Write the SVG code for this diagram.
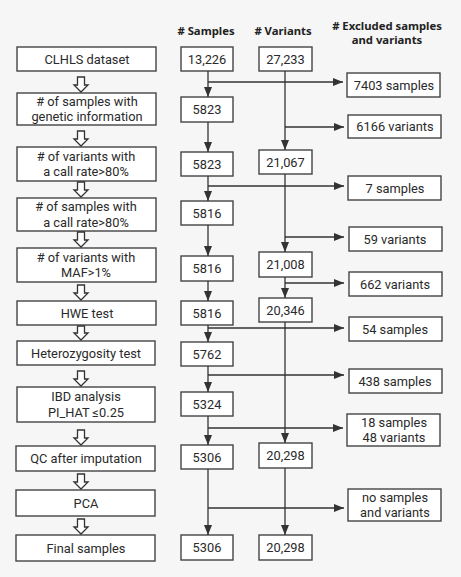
<svg xmlns="http://www.w3.org/2000/svg" width="461" height="577" viewBox="0 0 461 577">
<defs>
<marker id="ah" markerWidth="10" markerHeight="8" refX="10" refY="4" orient="auto" markerUnits="userSpaceOnUse">
<path d="M0,0 L10,4 L0,8 Z" fill="#333"/>
</marker>
<style>
.b{fill:#fff;stroke:#444;stroke-width:1.4}
.t{font-family:Roboto,"Noto Sans","DejaVu Sans",sans-serif;font-size:12.8px;fill:#2a2a2a;text-anchor:middle;dominant-baseline:central}
.n{font-family:Roboto,"Noto Sans","DejaVu Sans",sans-serif;font-size:12.8px;fill:#2a2a2a;text-anchor:middle;dominant-baseline:central}
.h{font-family:"Noto Sans","Open Sans","DejaVu Sans",sans-serif;font-size:11.3px;font-weight:bold;fill:#222;text-anchor:middle}
.c{fill:none;stroke:#333;stroke-width:1.3}
.ha{fill:#fff;stroke:#333;stroke-width:1.3;stroke-linejoin:miter}
</style>
</defs>
<rect width="461" height="577" fill="#f6f6f6"/>
<g id="headers">
<text class="h" x="206" y="35">&#35; Samples</text>
<text class="h" x="283" y="35">&#35; Variants</text>
<text class="h" x="387" y="30">&#35; Excluded samples</text>
<text class="h" x="387" y="44">and variants</text>
</g>
<g id="steps">
<g id="s1"><rect class="b" x="17" y="47" width="139" height="24"/><text class="t" x="87" y="59">CLHLS dataset</text></g>
<g id="s2"><rect class="b" x="17" y="93" width="139" height="32"/><text class="t" x="87" y="101.4">&#35; of samples with</text><text class="t" x="87" y="116.6">genetic information</text></g>
<g id="s3"><rect class="b" x="17" y="147" width="139" height="34"/><text class="t" x="86" y="156.4">&#35; of variants with</text><text class="t" x="86" y="171.6">a call rate&gt;80%</text></g>
<g id="s4"><rect class="b" x="17" y="198" width="139" height="33"/><text class="t" x="86" y="206.9">&#35; of samples with</text><text class="t" x="86" y="222.1">a call rate&gt;80%</text></g>
<g id="s5"><rect class="b" x="17" y="248" width="139" height="34"/><text class="t" x="86" y="257.4">&#35; of variants with</text><text class="t" x="86" y="272.6">MAF&gt;1%</text></g>
<g id="s6"><rect class="b" x="17" y="301" width="139" height="24"/><text class="t" x="87" y="313">HWE test</text></g>
<g id="s7"><rect class="b" x="17" y="341" width="138" height="24"/><text class="t" x="86" y="353">Heterozygosity test</text></g>
<g id="s8"><rect class="b" x="17" y="387" width="138" height="35"/><text class="t" x="86" y="396.9">IBD analysis</text><text class="t" x="86" y="412.1">PI_HAT ≤0.25</text></g>
<g id="s9"><rect class="b" x="16" y="446" width="139" height="25"/><text class="t" x="86" y="458.5">QC after imputation</text></g>
<g id="s10"><rect class="b" x="16" y="490" width="139" height="26"/><text class="t" x="86" y="503">PCA</text></g>
<g id="s11"><rect class="b" x="16" y="535" width="139" height="26"/><text class="t" x="86" y="548">Final samples</text></g>
</g>
<g id="samples">
<g id="n1"><rect class="b" x="181" y="47" width="52" height="24"/><text class="n" x="207" y="59">13,226</text></g>
<g id="n2"><rect class="b" x="181" y="97" width="52" height="25"/><text class="n" x="207" y="109.5">5823</text></g>
<g id="n3"><rect class="b" x="181" y="152" width="52" height="24"/><text class="n" x="207" y="164">5823</text></g>
<g id="n4"><rect class="b" x="181" y="201" width="52" height="24"/><text class="n" x="207" y="213">5816</text></g>
<g id="n5"><rect class="b" x="181" y="256" width="52" height="25"/><text class="n" x="207" y="268.5">5816</text></g>
<g id="n6"><rect class="b" x="181" y="301" width="52" height="24"/><text class="n" x="207" y="313">5816</text></g>
<g id="n7"><rect class="b" x="181" y="342" width="52" height="24"/><text class="n" x="207" y="354">5762</text></g>
<g id="n8"><rect class="b" x="181" y="392" width="52" height="24"/><text class="n" x="207" y="404">5324</text></g>
<g id="n9"><rect class="b" x="181" y="445" width="52" height="24"/><text class="n" x="207" y="457">5306</text></g>
<g id="n10"><rect class="b" x="181" y="535" width="52" height="25"/><text class="n" x="207" y="547.5">5306</text></g>
</g>
<g id="variants">
<g id="v1"><rect class="b" x="259" y="47" width="53" height="24"/><text class="n" x="285.5" y="59">27,233</text></g>
<g id="v2"><rect class="b" x="259" y="150" width="53" height="24"/><text class="n" x="285.5" y="162">21,067</text></g>
<g id="v3"><rect class="b" x="259" y="252" width="53" height="25"/><text class="n" x="285.5" y="264.5">21,008</text></g>
<g id="v4"><rect class="b" x="259" y="298" width="53" height="24"/><text class="n" x="285.5" y="310">20,346</text></g>
<g id="v5"><rect class="b" x="259" y="443" width="53" height="25"/><text class="n" x="285.5" y="455.5">20,298</text></g>
<g id="v6"><rect class="b" x="259" y="535" width="53" height="25"/><text class="n" x="285.5" y="547.5">20,298</text></g>
</g>
<g id="excluded">
<g id="e1"><rect class="b" x="347" y="73" width="93" height="24"/><text class="t" x="394" y="85">7403 samples</text></g>
<g id="e2"><rect class="b" x="348" y="115" width="93" height="23"/><text class="t" x="395" y="126.5">6166 variants</text></g>
<g id="e3"><rect class="b" x="348" y="176" width="93" height="24"/><text class="t" x="395" y="188">7 samples</text></g>
<g id="e4"><rect class="b" x="349" y="227" width="93" height="24"/><text class="t" x="395" y="239">59 variants</text></g>
<g id="e5"><rect class="b" x="349" y="272" width="93" height="24"/><text class="t" x="395" y="284">662 variants</text></g>
<g id="e6"><rect class="b" x="349" y="317" width="93" height="24"/><text class="t" x="395" y="329">54 samples</text></g>
<g id="e7"><rect class="b" x="349" y="369" width="93" height="24"/><text class="t" x="395" y="381">438 samples</text></g>
<g id="e8"><rect class="b" x="347" y="414" width="93" height="32"/><text class="t" x="394" y="422.4">18 samples</text><text class="t" x="394" y="437.6">48 variants</text></g>
<g id="e9"><rect class="b" x="348" y="489" width="93" height="32"/><text class="t" x="395" y="497.4">no samples</text><text class="t" x="395" y="512.6">and variants</text></g>
</g>
<g id="connectors">
<path class="ha" d="M77.5,77 H84.5 V85 H88 L81,92 L74,85 H77.5 Z"/>
<path class="ha" d="M77.5,131 H84.5 V139 H88 L81,146 L74,139 H77.5 Z"/>
<path class="ha" d="M77.5,182 H84.5 V190 H88 L81,197 L74,190 H77.5 Z"/>
<path class="ha" d="M77.5,232 H84.5 V240 H88 L81,247 L74,240 H77.5 Z"/>
<path class="ha" d="M77.5,285 H84.5 V293 H88 L81,300 L74,293 H77.5 Z"/>
<path class="ha" d="M77.5,326 H84.5 V333 H88 L81,340 L74,333 H77.5 Z"/>
<path class="ha" d="M77.5,371 H84.5 V379 H88 L81,386 L74,379 H77.5 Z"/>
<path class="ha" d="M77.5,430 H84.5 V438 H88 L81,445 L74,438 H77.5 Z"/>
<path class="ha" d="M77.5,474 H84.5 V482 H88 L81,489 L74,482 H77.5 Z"/>
<path class="ha" d="M77.5,519 H84.5 V527 H88 L81,534 L74,527 H77.5 Z"/>
<line class="c" x1="208" y1="71" x2="208" y2="97" marker-end="url(#ah)"/>
<line class="c" x1="208" y1="122" x2="208" y2="152" marker-end="url(#ah)"/>
<line class="c" x1="208" y1="176" x2="208" y2="201" marker-end="url(#ah)"/>
<line class="c" x1="208" y1="225" x2="208" y2="256" marker-end="url(#ah)"/>
<line class="c" x1="208" y1="281" x2="208" y2="301" marker-end="url(#ah)"/>
<line class="c" x1="208" y1="325" x2="208" y2="342" marker-end="url(#ah)"/>
<line class="c" x1="208" y1="366" x2="208" y2="392" marker-end="url(#ah)"/>
<line class="c" x1="208" y1="416" x2="208" y2="445" marker-end="url(#ah)"/>
<line class="c" x1="208" y1="469" x2="208" y2="535" marker-end="url(#ah)"/>
<line class="c" x1="285" y1="71" x2="285" y2="150" marker-end="url(#ah)"/>
<line class="c" x1="285" y1="174" x2="285" y2="252" marker-end="url(#ah)"/>
<line class="c" x1="285" y1="277" x2="285" y2="298" marker-end="url(#ah)"/>
<line class="c" x1="285" y1="322" x2="285" y2="443" marker-end="url(#ah)"/>
<line class="c" x1="285" y1="468" x2="285" y2="535" marker-end="url(#ah)"/>
<line class="c" x1="208" y1="82" x2="343" y2="82" marker-end="url(#ah)"/>
<line class="c" x1="285" y1="127" x2="344" y2="127" marker-end="url(#ah)"/>
<line class="c" x1="208" y1="186" x2="344" y2="186" marker-end="url(#ah)"/>
<line class="c" x1="285" y1="237" x2="344" y2="237" marker-end="url(#ah)"/>
<line class="c" x1="285" y1="283" x2="344" y2="283" marker-end="url(#ah)"/>
<line class="c" x1="208" y1="328" x2="344" y2="328" marker-end="url(#ah)"/>
<line class="c" x1="208" y1="375" x2="344" y2="375" marker-end="url(#ah)"/>
<line class="c" x1="208" y1="428" x2="343" y2="428" marker-end="url(#ah)"/>
<line class="c" x1="208" y1="508" x2="344" y2="508" marker-end="url(#ah)"/>
</g>
</svg>
